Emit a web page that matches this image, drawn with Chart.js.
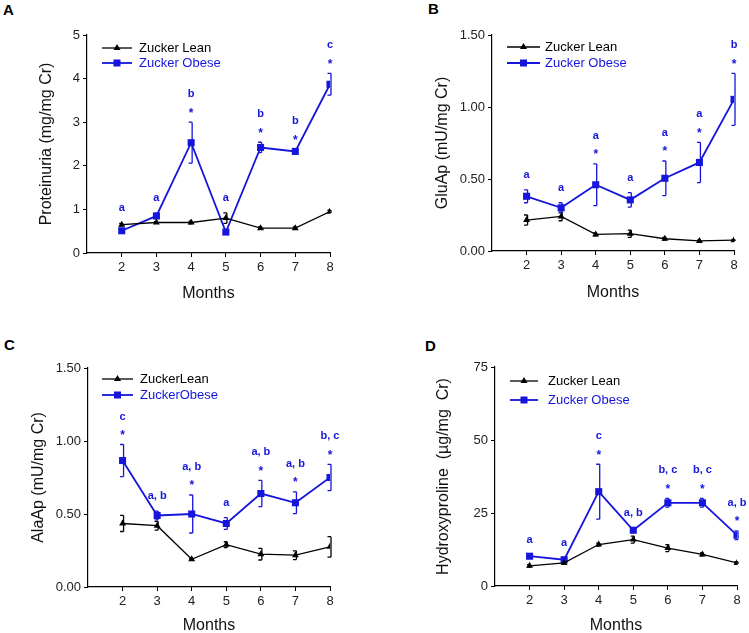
<!DOCTYPE html>
<html><head><meta charset="utf-8">
<script src="https://cdn.jsdelivr.net/npm/chart.js@4/dist/chart.umd.min.js"></script>
<style>
html,body{margin:0;padding:0;background:#fff;overflow:hidden;width:749px;height:633px;}
.wrap{position:absolute;}
.plab{position:absolute;font:bold 15px "Liberation Sans",Arial,sans-serif;color:#000;}
</style></head>
<body>
<div class="plab" style="left:3px;top:1px;">A</div>
<div class="plab" style="left:428px;top:0px;">B</div>
<div class="plab" style="left:4px;top:336px;">C</div>
<div class="plab" style="left:425px;top:337px;">D</div>
<div class="wrap" style="left:0;top:0;"><canvas id="cA" width="374" height="316"></canvas></div>
<div class="wrap" style="left:375px;top:0;"><canvas id="cB" width="374" height="316"></canvas></div>
<div class="wrap" style="left:0;top:316px;"><canvas id="cC" width="374" height="320"></canvas></div>
<div class="wrap" style="left:375px;top:316px;"><canvas id="cD" width="374" height="320"></canvas></div>
<script>
// ---------- data ----------
const months = [2, 3, 4, 5, 6, 7, 8];

// A: Proteinuria
const leanA      = [0.65, 0.70, 0.70, 0.80, 0.57, 0.57, 0.95];
const leanErrA   = [0.03, 0.02, 0.03, 0.12, 0.03, 0.03, 0.03];
const obeseA     = [0.51, 0.85, 2.53, 0.48, 2.42, 2.33, 3.87];
const obeseErrA  = [0.03, 0.06, 0.47, 0.03, 0.12, 0.05, 0.25];
const lettersA   = ['a', 'a', 'b', 'a', 'b', 'b', 'c'];
const starsA     = [false, false, true, false, true, true, true];

// B: GluAp
const leanB      = [0.215, 0.24, 0.115, 0.12, 0.085, 0.07, 0.075];
const leanErrB   = [0.035, 0.03, 0.01, 0.025, 0.01, 0.005, 0.005];
const obeseB     = [0.38, 0.30, 0.46, 0.355, 0.505, 0.615, 1.053];
const obeseErrB  = [0.045, 0.035, 0.145, 0.05, 0.12, 0.14, 0.18];
const lettersB   = ['a', 'a', 'a', 'a', 'a', 'a', 'b'];
const starsB     = [false, false, true, false, true, true, true];

// C: AlaAp
const leanC      = [0.435, 0.42, 0.19, 0.29, 0.225, 0.218, 0.275];
const leanErrC   = [0.055, 0.03, 0.005, 0.02, 0.04, 0.03, 0.07];
const obeseC     = [0.866, 0.49, 0.50, 0.435, 0.64, 0.577, 0.75];
const obeseErrC  = [0.11, 0.03, 0.13, 0.04, 0.09, 0.075, 0.09];
const lettersC   = ['c', 'a, b', 'a, b', 'a', 'a, b', 'a, b', 'b, c'];
const starsC     = [true, false, true, false, true, true, true];

// D: Hydroxyproline
const leanD      = [6.9, 7.9, 14.2, 15.9, 13.0, 10.8, 7.9];
const leanErrD   = [0.4, 0.5, 0.5, 1.2, 1.2, 0.5, 0.4];
const obeseD     = [10.2, 9.0, 32.3, 19.1, 28.5, 28.5, 17.4];
const obeseErrD  = [0.5, 0.5, 9.4, 0.8, 1.5, 1.5, 1.5];
const lettersD   = ['a', 'a', 'c', 'a, b', 'b, c', 'b, c', 'a, b'];
const starsD     = [false, false, true, false, true, true, true];

// ---------- styling ----------
const BLUE = '#1515dc';
const FONT = '"Liberation Sans", Arial, sans-serif';

const errPlugin = {
  id: 'errbars',
  beforeDatasetsDraw(chart) {
    const {ctx, scales: {x, y}} = chart;
    ctx.save();
    chart.data.datasets.forEach(ds => {
      ctx.strokeStyle = ds.borderColor;
      ctx.lineWidth = 1.3;
      ds.data.forEach((p, i) => {
        const e = ds.errors[i];
        const px = x.getPixelForValue(p.x) + 1;
        const yt = y.getPixelForValue(p.y + e);
        const yb = y.getPixelForValue(p.y - e);
        ctx.beginPath();
        ctx.moveTo(px, yt); ctx.lineTo(px, yb);
        ctx.moveTo(px - 3.5, yt); ctx.lineTo(px, yt);
        ctx.moveTo(px - 3.5, yb); ctx.lineTo(px, yb);
        ctx.stroke();
      });
    });
    ctx.restore();
  }
};

const annotPlugin = {
  id: 'annot',
  afterDatasetsDraw(chart, args, opts) {
    const {ctx, scales: {x, y}} = chart;
    ctx.save();
    ctx.fillStyle = BLUE;
    ctx.textAlign = 'center';
    ctx.textBaseline = 'middle';
    opts.letters.forEach((lab, i) => {
      let top = Infinity;
      chart.data.datasets.forEach(ds => {
        const p = ds.data[i];
        top = Math.min(top, y.getPixelForValue(p.y + ds.errors[i]));
      });
      const px = x.getPixelForValue(months[i]);
      let ly;
      if (opts.stars[i]) {
        ctx.font = 'bold 12px ' + FONT;
        ctx.fillText('*', px, top - 12 + 3);
        ly = top - 28;
      } else {
        ly = top - 15;
      }
      ctx.font = 'bold 11px ' + FONT;
      ctx.fillText(lab, px, ly);
    });
    ctx.restore();
  }
};

const legendPlugin = {
  id: 'inlegend',
  afterDraw(chart, args, opts) {
    const {ctx, chartArea: ca} = chart;
    ctx.save();
    chart.data.datasets.forEach((ds, k) => {
      const yy = ca.top + opts.ys[k];
      const x0 = ca.left + opts.x0, x1 = ca.left + opts.x1;
      ctx.strokeStyle = ds.borderColor;
      ctx.lineWidth = ds.borderWidth;
      ctx.beginPath(); ctx.moveTo(x0, yy); ctx.lineTo(x1, yy); ctx.stroke();
      ctx.fillStyle = ds.borderColor;
      const mx = (x0 + x1) / 2;
      ctx.beginPath();
      if (ds.pointStyle === 'triangle') {
        ctx.moveTo(mx, yy - 4); ctx.lineTo(mx + 3.5, yy + 2); ctx.lineTo(mx - 3.5, yy + 2); ctx.closePath();
      } else {
        ctx.rect(mx - 3.5, yy - 3.5, 7, 7);
      }
      ctx.fill();
      ctx.font = '13px ' + FONT;
      ctx.textBaseline = 'middle';
      ctx.textAlign = 'left';
      ctx.fillText(opts.labels[k], ca.left + opts.tx, yy);
    });
    ctx.restore();
  }
};

function pts(vals) { return months.map((m, i) => ({x: m, y: vals[i]})); }

function makeChart(id, cfg) {
  new Chart(document.getElementById(id), {
    type: 'line',
    data: {
      datasets: [
        {label: cfg.labels[0], data: pts(cfg.lean), errors: cfg.leanErr, borderColor: '#000', backgroundColor: '#000',
         borderWidth: 1.3, pointStyle: 'triangle', pointRadius: 4, pointBorderWidth: 0, tension: 0},
        {label: cfg.labels[1], data: pts(cfg.obese), errors: cfg.obeseErr, borderColor: BLUE, backgroundColor: BLUE,
         borderWidth: 1.8, pointStyle: 'rect', pointRadius: 5, pointBorderWidth: 0, tension: 0}
      ]
    },
    options: {
      responsive: false, animation: false, devicePixelRatio: 1,
      layout: {padding: {left: 0, top: cfg.top, right: cfg.right, bottom: 0}},
      plugins: {
        legend: {display: false}, tooltip: {enabled: false},
        annot: {letters: cfg.letters, stars: cfg.stars},
        inlegend: cfg.legend
      },
      scales: {
        x: {
          type: 'linear', min: 1, max: 8,
          afterBuildTicks: ax => { ax.ticks = ax.ticks.filter(t => t.value >= 2); },
          afterFit: ax => { ax.height = cfg.xh; },
          ticks: {stepSize: 1, color: '#222', font: {size: 13, family: FONT}, padding: 3, maxRotation: 0},
          grid: {drawOnChartArea: false, drawTicks: true, tickLength: 4, color: '#000'},
          border: {display: true, color: '#000', width: 1.2},
          title: {display: true, text: 'Months', color: '#111', font: {size: 16, family: FONT}, padding: {top: 0, bottom: cfg.xpb}}
        },
        y: {
          min: 0, max: cfg.ymax,
          afterFit: ax => { ax.width = cfg.yw; },
          ticks: {stepSize: cfg.ystep, color: '#222', font: {size: 13, family: FONT}, padding: 3,
                  callback: v => cfg.fmt(v)},
          grid: {drawOnChartArea: false, drawTicks: true, tickLength: 4, color: '#000'},
          border: {display: true, color: '#000', width: 1.2},
          title: {display: true, text: cfg.ytitle, color: '#111', font: {size: 16, family: FONT}, padding: {top: cfg.ypt, bottom: 0}}
        }
      }
    },
    plugins: [errPlugin, annotPlugin, legendPlugin]
  });
}

const int = v => String(v);
const dec2 = v => v.toFixed(2);

makeChart('cA', {labels: ['Zucker Lean', 'Zucker Obese'], lean: leanA, leanErr: leanErrA, obese: obeseA, obeseErr: obeseErrA,
  letters: lettersA, stars: starsA, ymax: 5, ystep: 1, fmt: int, ytitle: 'Proteinuria (mg/mg Cr)',
  top: 35, right: 44, yw: 87, xh: 63, xpb: 13, ypt: 37,
  legend: {x0: 15, x1: 45, tx: 52, ys: [13, 28], labels: ['Zucker Lean', 'Zucker Obese']}});

makeChart('cB', {labels: ['Zucker Lean', 'Zucker Obese'], lean: leanB, leanErr: leanErrB, obese: obeseB, obeseErr: obeseErrB,
  letters: lettersB, stars: starsB, ymax: 1.5, ystep: 0.5, fmt: dec2, ytitle: 'GluAp (mU/mg Cr)',
  top: 35, right: 15, yw: 117, xh: 65, xpb: 14, ypt: 58,
  legend: {x0: 15, x1: 48, tx: 53, ys: [12, 28], labels: ['Zucker Lean', 'Zucker Obese']}});

makeChart('cC', {labels: ['ZuckerLean', 'ZuckerObese'], lean: leanC, leanErr: leanErrC, obese: obeseC, obeseErr: obeseErrC,
  letters: lettersC, stars: starsC, ymax: 1.5, ystep: 0.5, fmt: dec2, ytitle: 'AlaAp (mU/mg Cr)',
  top: 52, right: 44, yw: 88, xh: 49, xpb: 1, ypt: 29,
  legend: {x0: 14, x1: 45, tx: 52, ys: [11, 27], labels: ['ZuckerLean', 'ZuckerObese']}});

makeChart('cD', {labels: ['Zucker Lean', 'Zucker Obese'], lean: leanD, leanErr: leanErrD, obese: obeseD, obeseErr: obeseErrD,
  letters: lettersD, stars: starsD, ymax: 75, ystep: 25, fmt: int, ytitle: 'Hydroxyproline  (\u00b5g/mg  Cr)',
  top: 51, right: 12, yw: 120, xh: 50, xpb: 1, ypt: 59,
  legend: {x0: 15, x1: 43, tx: 53, ys: [14, 33], labels: ['Zucker Lean', 'Zucker Obese']}});
</script>
</body></html>
